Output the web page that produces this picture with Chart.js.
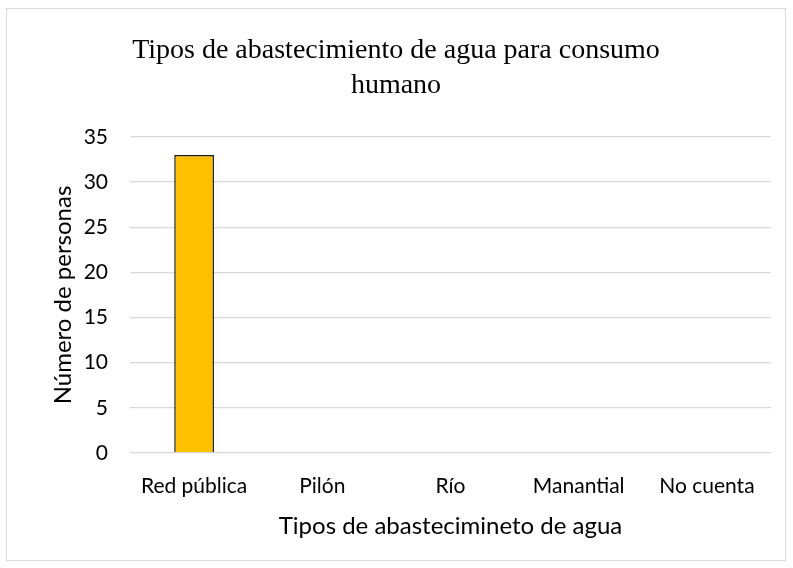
<!DOCTYPE html>
<html>
<head>
<meta charset="utf-8">
<script src="https://cdn.jsdelivr.net/npm/chart.js@4"></script>
<style>
  body { margin: 0; background: #fff; }
  #box { position: absolute; left: 6px; top: 8px; width: 778px; height: 551px; border: 1px solid #d9d9d9; }
</style>
</head>
<body>
<div id="box"><canvas id="chart"></canvas></div>
<script>
// categorías y valores del gráfico
const categorias = ['Red pública', 'Pilón', 'Río', 'Manantial', 'No cuenta'];
const personas = [33, 0, 0, 0, 0];
const ticksY = [0, 5, 10, 15, 20, 25, 30, 35];

const fuente = "Lato, 'Open Sans', sans-serif";

new Chart(document.getElementById('chart'), {
  type: 'bar',
  data: {
    labels: categorias,
    datasets: [{
      label: 'Número de personas',
      data: personas,
      backgroundColor: '#FFC000',
      borderColor: '#1a1a1a',
      borderWidth: 1.5,
      categoryPercentage: 1,
      barPercentage: 0.31
    }]
  },
  options: {
    responsive: true,
    maintainAspectRatio: false,
    animation: false,
    layout: { padding: { left: 14, right: 14, top: 10, bottom: 19 } },
    plugins: {
      legend: { display: false },
      tooltip: { enabled: false },
      title: {
        display: true,
        text: ['Tipos de abastecimiento de agua para consumo', 'humano'],
        color: '#000',
        font: { family: "'Liberation Serif', 'Times New Roman', serif", size: 28, weight: 'normal', lineHeight: 1.25 },
        padding: { top: 14, bottom: 34 }
      }
    },
    scales: {
      x: {
        grid: { display: false, drawTicks: false },
        border: { display: false },
        ticks: { color: '#000', font: { family: fuente, size: 21 }, padding: 21, maxRotation: 0 },
        title: { display: true, text: 'Tipos de abastecimineto de agua', color: '#000', font: { family: fuente, size: 24 }, padding: { top: 0, bottom: 0 } },
        afterFit: axis => { axis.height = 88; }
      },
      y: {
        min: 0,
        max: 35,
        afterBuildTicks: axis => { axis.ticks = ticksY.map(v => ({ value: v })); },
        grid: { color: '#d9d9d9', lineWidth: 1.3, drawTicks: false },
        border: { display: false },
        ticks: { color: '#000', font: { family: fuente, size: 21 }, padding: 22 },
        title: { display: true, text: 'Número de personas', color: '#000', font: { family: fuente, size: 24 }, padding: { top: 28, bottom: 0 } },
        afterFit: axis => { axis.width = 109; }
      }
    }
  }
});
</script>
</body>
</html>
